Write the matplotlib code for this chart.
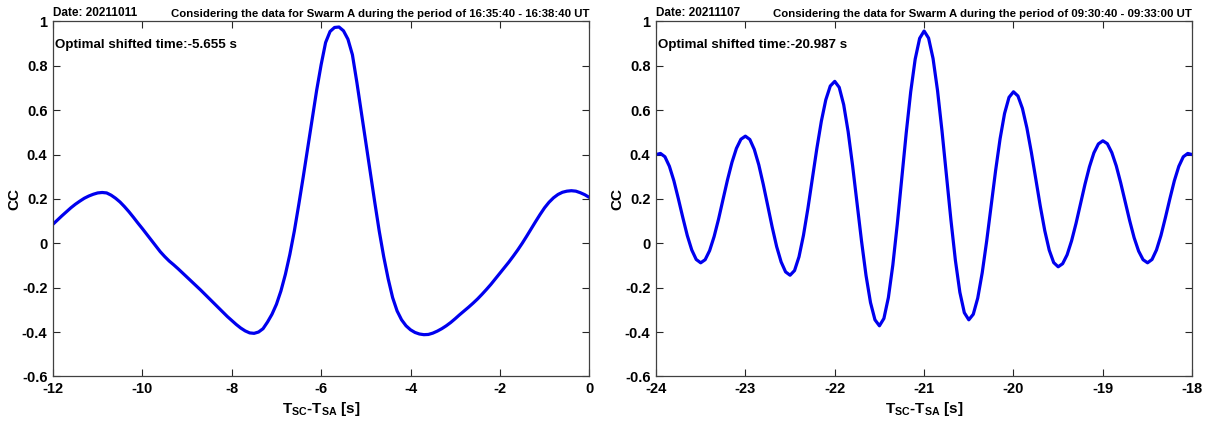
import numpy as np
import matplotlib
matplotlib.use("Agg")
import matplotlib.pyplot as plt
from matplotlib.ticker import FormatStrFormatter

plt.rcParams['font.family'] = ['Liberation Sans', 'DejaVu Sans']
plt.rcParams['font.weight'] = 'bold'
plt.rcParams['axes.unicode_minus'] = False
plt.rcParams['mathtext.fontset'] = 'custom'
plt.rcParams['mathtext.rm'] = 'Liberation Sans:bold'
plt.rcParams['mathtext.bf'] = 'Liberation Sans:bold'

# event 1: 2021-10-11, lags -12 .. 0 s every 0.1 s
lag_a = np.linspace(-12, 0, 121)
cc_a = [0.086, 0.105, 0.124, 0.142, 0.160, 0.176, 0.190, 0.203, 0.213, 0.221,
        0.227, 0.229, 0.227, 0.217, 0.203, 0.186, 0.165, 0.142, 0.117, 0.091,
        0.066, 0.040, 0.014, -0.012, -0.038, -0.060, -0.080, -0.097, -0.115, -0.134,
        -0.153, -0.172, -0.191, -0.210, -0.230, -0.250, -0.270, -0.290, -0.310, -0.330,
        -0.348, -0.366, -0.382, -0.395, -0.404, -0.406, -0.400, -0.385, -0.355, -0.320,
        -0.275, -0.215, -0.140, -0.050, 0.055, 0.175, 0.300, 0.430, 0.560, 0.690,
        0.805, 0.905, 0.955, 0.973, 0.975, 0.958, 0.920, 0.850, 0.725, 0.590,
        0.455, 0.320, 0.185, 0.055, -0.060, -0.160, -0.245, -0.305, -0.345, -0.372,
        -0.390, -0.402, -0.409, -0.412, -0.411, -0.405, -0.396, -0.385, -0.372, -0.357,
        -0.340, -0.322, -0.305, -0.288, -0.270, -0.251, -0.230, -0.208, -0.185, -0.160,
        -0.135, -0.110, -0.085, -0.058, -0.030, 0.000, 0.032, 0.065, 0.098, 0.130,
        0.160, 0.185, 0.205, 0.220, 0.230, 0.235, 0.237, 0.235, 0.228, 0.219,
        0.207]

# event 2: 2021-11-07, lags -24 .. -18 s every 0.05 s
lag_b = np.linspace(-24, -18, 121)
cc_b = [0.400, 0.405, 0.390, 0.347, 0.282, 0.201, 0.116, 0.035, -0.030, -0.073, -0.088,
        -0.074, -0.033, 0.030, 0.109, 0.198, 0.286, 0.365, 0.428, 0.469, 0.483,
        0.468, 0.423, 0.354, 0.266, 0.170, 0.073, -0.015, -0.084, -0.129, -0.144,
        -0.123, -0.061, 0.036, 0.158, 0.293, 0.428, 0.550, 0.647, 0.709, 0.730,
        0.703, 0.625, 0.503, 0.349, 0.179, 0.009, -0.145, -0.267, -0.345, -0.372,
        -0.339, -0.245, -0.098, 0.087, 0.293, 0.498, 0.683, 0.830, 0.924, 0.957,
        0.925, 0.833, 0.689, 0.507, 0.306, 0.105, -0.077, -0.221, -0.313, -0.345,
        -0.320, -0.247, -0.133, 0.010, 0.169, 0.328, 0.471, 0.585, 0.658, 0.683,
        0.664, 0.608, 0.520, 0.410, 0.289, 0.167, 0.057, -0.031, -0.087, -0.106,
        -0.092, -0.052, 0.011, 0.090, 0.178, 0.266, 0.345, 0.408, 0.448, 0.462,
        0.449, 0.409, 0.349, 0.272, 0.187, 0.102, 0.025, -0.035, -0.074, -0.088,
        -0.073, -0.030, 0.035, 0.116, 0.201, 0.282, 0.347, 0.390, 0.405, 0.400]

dates = ['20211011', '20211107']
periods = ['16:35:40 - 16:38:40', '09:30:40 - 09:33:00']
best_shift = ['-5.655', '-20.987']
xticks_a = [-12, -10, -8, -6, -4, -2, 0]
xticks_b = [-24, -23, -22, -21, -20, -19, -18]
yticks = [-0.6, -0.4, -0.2, 0, 0.2, 0.4, 0.6, 0.8, 1]

fig = plt.figure(figsize=(12.05, 4.21), dpi=100)
ax_a = fig.add_axes([0.044, 0.106, 0.445, 0.843])
ax_b = fig.add_axes([0.5444, 0.106, 0.445, 0.843])

panels = [(ax_a, lag_a, cc_a, xticks_a), (ax_b, lag_b, cc_b, xticks_b)]
for i, (ax, lag, cc, xt) in enumerate(panels):
    ax.plot(lag, cc, color='#0000ee', lw=2.3, solid_joinstyle='round',
            solid_capstyle='round')
    ax.set_xlim(xt[0], xt[-1])
    ax.set_ylim(-0.6, 1)
    ax.set_xticks(xt)
    ax.set_yticks(yticks)
    ax.yaxis.set_major_formatter(FormatStrFormatter('%g'))
    ax.tick_params(direction='in', length=5, width=0.8, top=True, right=True,
                   labelsize=10.5, colors='#262626', pad=4)
    for lab in ax.get_xticklabels() + ax.get_yticklabels():
        lab.set_fontweight('bold')
        lab.set_color('black')
    for sp in ax.spines.values():
        sp.set_color('#404040')
        sp.set_linewidth(0.9)
    ax.set_ylabel('CC', fontsize=11, fontweight='bold', labelpad=0)
    ax.set_xlabel(r'T$_\mathbf{SC}$-T$_\mathbf{SA}$ [s]', fontsize=11,
                  fontweight='bold', labelpad=3)
    ax.text(0.0, 1.008, 'Date: ' + dates[i], transform=ax.transAxes,
            ha='left', va='bottom', fontsize=8.5, fontweight='bold')
    ax.text(1.0, 1.008, 'Considering the data for Swarm A during the period of '
            + periods[i] + ' UT', transform=ax.transAxes,
            ha='right', va='bottom', fontsize=8.2, fontweight='bold')
    ax.text(0.003, 0.935, 'Optimal shifted time:' + best_shift[i] + ' s',
            transform=ax.transAxes, ha='left', va='center', fontsize=9.6,
            fontweight='bold')

fig.savefig('out.png', dpi=100)
